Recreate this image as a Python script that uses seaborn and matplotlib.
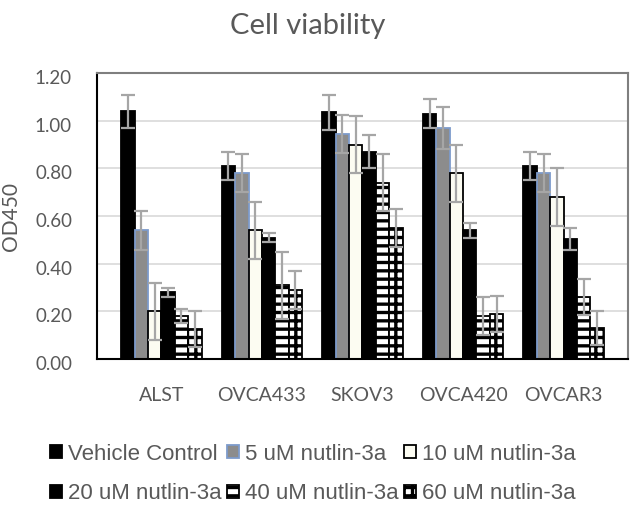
import numpy as np
import pandas as pd
import matplotlib
matplotlib.use("Agg")
import matplotlib.pyplot as plt
import matplotlib.transforms as mtransforms
import seaborn as sns

cells = ["ALST", "OVCA433", "SKOV3", "OVCA420", "OVCAR3"]
treatments = ["Vehicle Control", "5 uM nutlin-3a", "10 uM nutlin-3a",
              "20 uM nutlin-3a", "40 uM nutlin-3a", "60 uM nutlin-3a"]

# mean OD450 per treatment, in cell line order
vehicle = [1.04, 0.81, 1.035, 1.03, 0.81]
nut5 = [0.54, 0.78, 0.945, 0.97, 0.78]
nut10 = [0.20, 0.54, 0.90, 0.78, 0.68]
nut20 = [0.28, 0.51, 0.87, 0.54, 0.505]
nut40 = [0.18, 0.31, 0.74, 0.18, 0.26]
nut60 = [0.125, 0.29, 0.55, 0.19, 0.13]

# error bars (+/-)
err_vehicle = [0.07, 0.06, 0.075, 0.06, 0.06]
err_5 = [0.08, 0.08, 0.08, 0.09, 0.08]
err_10 = [0.12, 0.12, 0.12, 0.12, 0.12]
err_20 = [0.02, 0.02, 0.07, 0.03, 0.045]
err_40 = [0.03, 0.14, 0.12, 0.08, 0.075]
err_60 = [0.075, 0.08, 0.08, 0.075, 0.07]

means = [vehicle, nut5, nut10, nut20, nut40, nut60]
errs = [err_vehicle, err_5, err_10, err_20, err_40, err_60]

rows = []
for t, vals in zip(treatments, means):
    for c, v in zip(cells, vals):
        rows.append({"cell": c, "treatment": t, "od": v})
df = pd.DataFrame(rows)

sns.set_style("white")
plt.rcParams["hatch.linewidth"] = 2.4
grey_txt = "#595959"

faces = ["black", "#8c8c8c", "#fcfcf2", "black", "white", "white"]
edges = ["black", "#7d9bcb", "black", "black", "black", "black"]
hatches = [None, None, None, None, "--", "++"]

fig = plt.figure(figsize=(6.34, 5.08), dpi=100)
ax = fig.add_axes([0.153, 0.293, 0.8375, 0.563])

sns.barplot(data=df, x="cell", y="od", hue="treatment", hue_order=treatments,
            order=cells, palette=faces, width=0.8, errorbar=None,
            saturation=1, ax=ax, zorder=2)

bar_conts = list(ax.containers)
for i, cont in enumerate(bar_conts):
    xs = []
    for bar in cont:
        bar.set_facecolor(faces[i])
        bar.set_edgecolor(edges[i])
        bar.set_linewidth(1.3)
        if hatches[i]:
            bar.set_hatch(hatches[i])
        xs.append(bar.get_x() + bar.get_width() / 2)
    ax.errorbar(xs, means[i], yerr=errs[i], fmt="none", ecolor="#a6a6a6",
                elinewidth=1.6, capsize=5, capthick=1.6, zorder=3)

ax.set_ylim(0, 1.2)
ax.set_yticks(np.arange(0, 1.21, 0.2))
ax.set_yticklabels([f"{v:.2f}" for v in np.arange(0, 1.21, 0.2)])
ax.yaxis.grid(True, color="#d9d9d9", linewidth=1.2, zorder=0)
ax.set_axisbelow(True)
ax.tick_params(axis="both", length=0, labelsize=14, labelcolor=grey_txt)
ax.tick_params(axis="y", pad=18, labelsize=13.5)
ax.tick_params(axis="x", pad=20)
shift = mtransforms.ScaledTranslation(0, -4 / 100, fig.dpi_scale_trans)
for lab in ax.get_yticklabels():
    lab.set_family("Lato")
    lab.set_transform(lab.get_transform() + shift)
for lab in ax.get_xticklabels():
    lab.set_family("Lato")
ax.set_xlabel("")
ax.set_ylabel("OD450", fontsize=15, color=grey_txt, family="Lato")
ax.yaxis.set_label_coords(-0.143, 0.5)

fig.text(308 / 634, 1 - 26 / 508, "Cell viability", fontsize=21, color=grey_txt,
         family="Lato", ha="center", va="center")

ax.spines["left"].set_color("black")
ax.spines["bottom"].set_color("black")
ax.spines["top"].set_color("#7f7f7f")
ax.spines["right"].set_color("#7f7f7f")
for s in ax.spines.values():
    s.set_linewidth(1.5)

ax.legend_.remove()
handles = [cont[0] for cont in bar_conts]
order = [0, 3, 1, 4, 2, 5]
fig.legend([handles[k] for k in order], [treatments[k] for k in order],
           loc="center", bbox_to_anchor=(0.494, 0.067), ncol=3, frameon=False,
           prop={"family": "Liberation Sans", "size": 16}, labelcolor=grey_txt,
           handlelength=0.5, handleheight=0.55, handletextpad=0.3,
           columnspacing=0.25, labelspacing=0.85)

fig.savefig("out.png", dpi=100)
